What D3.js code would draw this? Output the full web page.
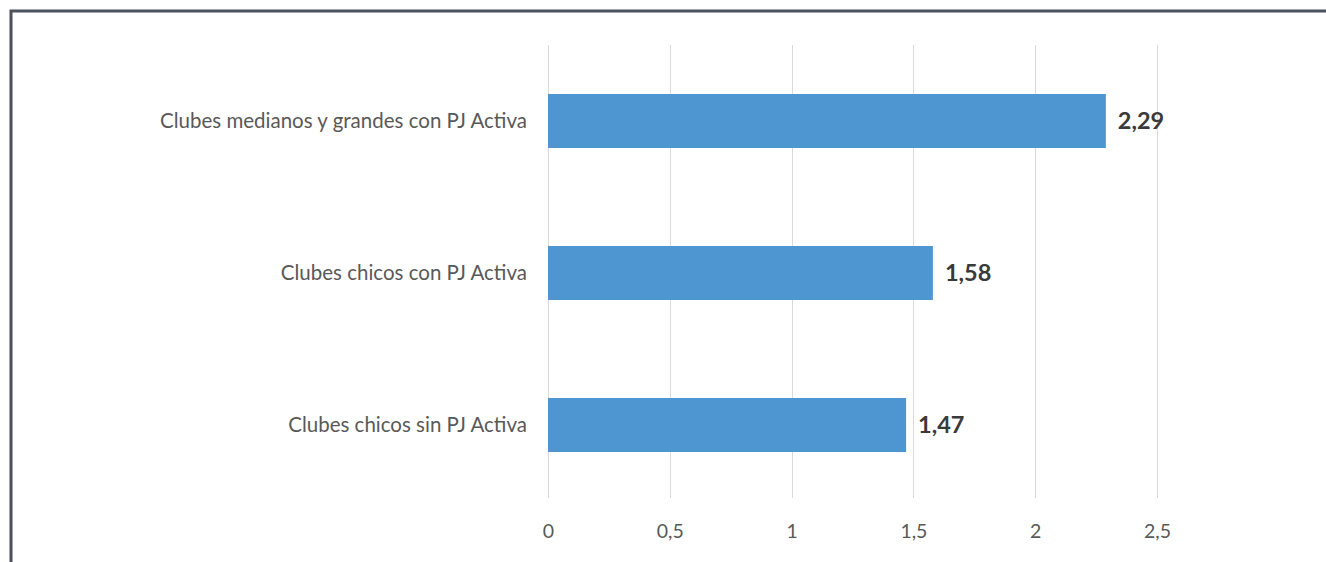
<!DOCTYPE html>
<html>
<head>
<meta charset="utf-8">
<script src="https://cdn.jsdelivr.net/npm/d3@7/dist/d3.min.js"></script>
<style>
  html, body { margin: 0; padding: 0; background: #fff; }
  svg { display: block; }
</style>
</head>
<body>
<svg id="chart" width="1326" height="562"></svg>
<script>
const categories = ["Clubes medianos y grandes con PJ Activa", "Clubes chicos con PJ Activa", "Clubes chicos sin PJ Activa"];
const values = [2.29, 1.58, 1.47];
const valueLabels = ["2,29", "1,58", "1,47"];
const tickValues = [0, 0.5, 1, 1.5, 2, 2.5];
const tickLabels = ["0", "0,5", "1", "1,5", "2", "2,5"];

const svg = d3.select("#chart");
const font = "Lato, 'Open Sans', sans-serif";

// frame (top + left border)
svg.append("path")
  .attr("d", "M11,562 L11,11 L1326,11")
  .attr("fill", "none")
  .attr("stroke", "#4b525c")
  .attr("stroke-width", 3);

const x = d3.scaleLinear().domain([0, 2.5]).range([548, 1157]);
const y = d3.scaleBand().domain(categories).range([45, 501]).paddingInner(0.645).paddingOuter(0.3225);

// gridlines
svg.append("g").selectAll("line").data(tickValues).join("line")
  .attr("x1", d => Math.round(x(d)) + 0.5).attr("x2", d => Math.round(x(d)) + 0.5)
  .attr("y1", 45).attr("y2", 498)
  .attr("stroke", "#d9d9d9").attr("stroke-width", 1);

// x axis labels
const xAxis = d3.axisBottom(x).tickValues(tickValues)
  .tickFormat((d, i) => tickLabels[i]).tickSize(0).tickPadding(0);
const gx = svg.append("g").attr("transform", "translate(0,531)").call(xAxis);
gx.select(".domain").remove();
gx.selectAll("text").attr("font-family", font).attr("font-size", 19.5).attr("fill", "#595959").attr("dy", "0.36em").attr("y", 0);

// y axis labels
const yAxis = d3.axisLeft(y).tickSize(0).tickPadding(0);
const gy = svg.append("g").attr("transform", "translate(527,0)").call(yAxis);
gy.select(".domain").remove();
gy.selectAll("text").attr("font-family", font).attr("font-size", 20.5).attr("fill", "#595959");

// bars
svg.append("g").selectAll("rect").data(values).join("rect")
  .attr("x", x(0))
  .attr("y", (d, i) => y(categories[i]))
  .attr("width", d => x(d) - x(0))
  .attr("height", y.bandwidth())
  .attr("fill", "#4e96d2");

// value labels
svg.append("g").selectAll("text").data(values).join("text")
  .attr("x", d => x(d) + 12)
  .attr("y", (d, i) => y(categories[i]) + y.bandwidth() / 2)
  .attr("dy", "0.36em")
  .attr("font-family", font).attr("font-size", 23.5).attr("font-weight", "bold")
  .attr("fill", "#3a3a3a")
  .text((d, i) => valueLabels[i]);
</script>
</body>
</html>
